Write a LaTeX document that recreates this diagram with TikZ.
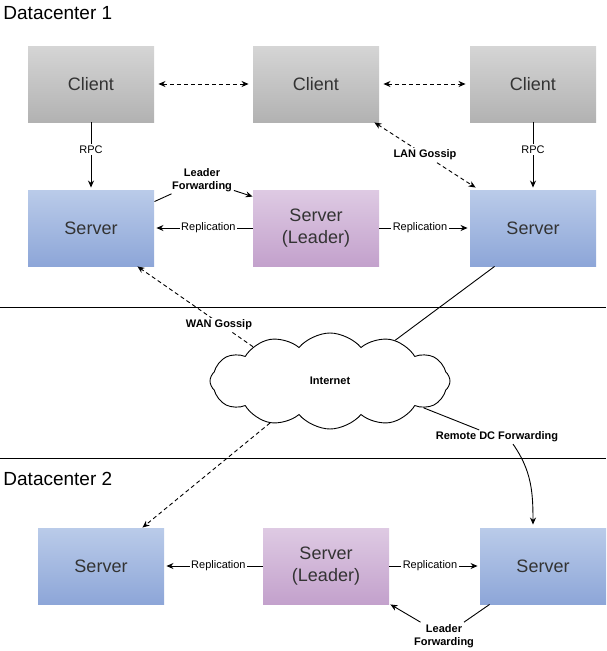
\documentclass[tikz,border=0pt]{standalone}
\usepackage{fontspec}
\setmainfont{Liberation Sans}
\usetikzlibrary{arrows.meta,shapes.symbols}

\definecolor{clientTop}{HTML}{D5D5D5}
\definecolor{clientBot}{HTML}{B2B2B2}
\definecolor{serverTop}{HTML}{BACBE9}
\definecolor{serverBot}{HTML}{8DA6D8}
\definecolor{leaderTop}{HTML}{DECAE3}
\definecolor{leaderBot}{HTML}{C3A1CC}
\definecolor{boxText}{HTML}{333333}

\tikzset{
  box/.style={minimum width=126pt, minimum height=76pt, inner sep=0pt, align=center,
    text=boxText, font=\fontsize{18}{22}\selectfont},
  client/.style={box, top color=clientTop, bottom color=clientBot},
  server/.style={box, top color=serverTop, bottom color=serverBot},
  leader/.style={box, top color=leaderTop, bottom color=leaderBot},
  dctitle/.style={anchor=base west, inner sep=0pt, font=\fontsize{19}{22}\selectfont},
  lbl/.style={fill=white, inner sep=1.5pt, font=\fontsize{11}{13}\selectfont},
  boldlbl/.style={lbl, align=center, font=\fontsize{11}{13.5}\selectfont\bfseries},
  gossip/.style={dash pattern=on 4pt off 3pt},
}

\begin{document}
\begin{tikzpicture}[x=1pt, y=-1pt, line width=0.9pt, >={Stealth[length=7pt,width=6pt]}]
  \useasboundingbox (0,0) rectangle (606,651);

  % Titles and separators
  \node[dctitle] (dcA) at (3,19) {Datacenter 1};
  \node[dctitle] (dcB) at (3,485) {Datacenter 2};
  \draw (0,307) -- (606,307);
  \draw (0,458) -- (606,458);

  % Datacenter 1
  \foreach \n/\x in {A/91, B/316, C/533}
    \node[client] (cli\n) at (\x,84) {Client};
  \node[server] (srvA) at (91,228) {Server};
  \node[leader] (ldrB) at (316,228) {Server\\(Leader)};
  \node[server] (srvC) at (533,228) {Server};

  \draw[gossip, <->, shorten <=4pt, shorten >=4pt] (cliA) -- (cliB);
  \draw[gossip, <->, shorten <=4pt, shorten >=4pt] (cliB) -- (cliC);
  \draw[->, shorten >=2pt] (cliA) -- node[lbl, pos=0.4] (rpcA) {RPC} (srvA);
  \draw[->, shorten >=2pt] (cliC) -- node[lbl, pos=0.4] (rpcC) {RPC} (srvC);
  \draw[->, shorten >=2pt] (ldrB) -- node[lbl, pos=0.45] (repA) {Replication} (srvA);
  \draw[->, shorten >=2pt] (ldrB) -- node[lbl, pos=0.45] (repC) {Replication} (srvC);
  \draw[gossip, <->] ([xshift=-5pt]cliB.south east) -- node[boldlbl] (lan) {LAN Gossip}
    ([xshift=6pt, yshift=2pt]srvC.north west);

  \node[boldlbl] (fwdB) at (202,180) {Leader\\Forwarding};
  \draw ([yshift=-12pt]srvA.north east) -- (fwdB);
  \draw[->] (fwdB) -- ([yshift=-7pt]ldrB.north west);

  % Datacenter 2
  \node[server] (srvD) at (101,566) {Server};
  \node[leader] (ldrE) at (326,566) {Server\\(Leader)};
  \node[server] (srvF) at (543,566) {Server};

  \draw[->, shorten >=2pt] (ldrE) -- node[lbl, pos=0.45] (repD) {Replication} (srvD);
  \draw[->, shorten >=2pt] (ldrE) -- node[lbl, pos=0.45] (repF) {Replication} (srvF);

  \node[boldlbl] (fwdE) at (444,636) {Leader\\Forwarding};
  \draw ([xshift=10pt]srvF.south west) -- (fwdE);
  \draw[->] (fwdE) -- ([xshift=1pt]ldrE.south east);

  % Internet
  \node[cloud, cloud puffs=12, cloud puff arc=100, cloud ignores aspect, draw, fill=white,
    minimum width=240pt, minimum height=96pt, inner sep=0pt,
    font=\fontsize{11}{13}\selectfont\bfseries] (inet) at (330,381) {Internet};
  \draw[gossip, ->] (inet.156) -- ([xshift=-17pt]srvA.south east);
  \node[boldlbl] (wan) at (219,325) {WAN Gossip};
  \draw[gossip, ->] (inet.215) -- ([xshift=-22pt]srvD.north east);

  \draw ([xshift=25pt]srvC.south west) -- (inet.32);
  \node[boldlbl] (rdc) at (497,437) {Remote DC Forwarding};
  \draw (inet.-16) -- (rdc);
  \draw[->] ([xshift=16pt]rdc.south) to[out=-55, in=90] ([xshift=-10pt, yshift=3pt]srvF.north);
\end{tikzpicture}
\end{document}
